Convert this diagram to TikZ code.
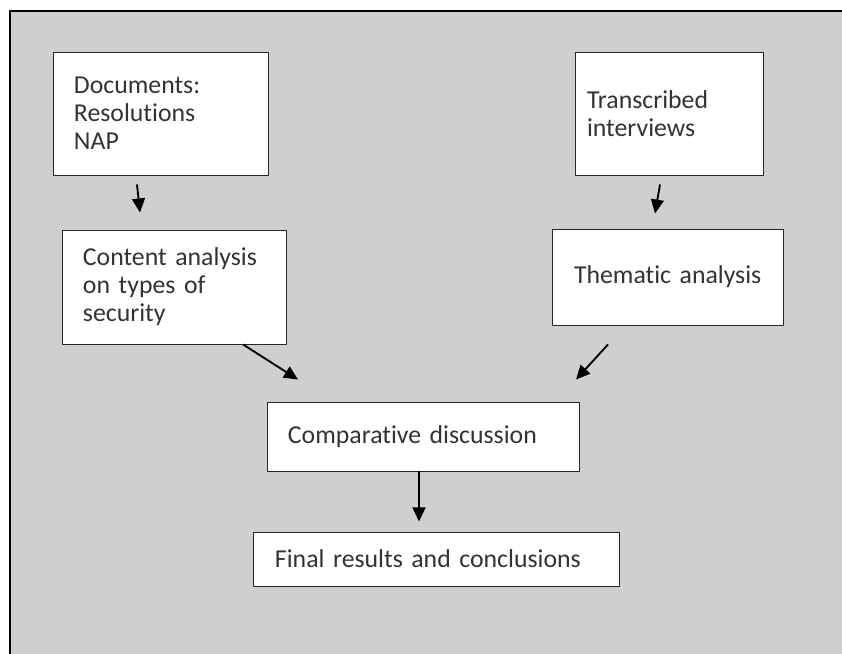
\documentclass[tikz,border=0pt]{standalone}
\usepackage{fontspec}
\setmainfont{Carlito}[Ligatures=NoCommon]
\usetikzlibrary{arrows.meta,calc}
\definecolor{panelgray}{HTML}{D0CECE}
\hyphenpenalty=10000
\begin{document}
\begin{tikzpicture}[x=0.03cm, y=-0.03cm, line join=round,
	box/.style={draw=black!85, fill=white, line width=0.8pt, align=left, inner ysep=0pt,
		inner xsep=0.63cm, text=black!80, font=\fontsize{22}{24}\selectfont},
	arr/.style={-{Triangle[length=12pt,width=11pt]}, line width=1.6pt}]
		\useasboundingbox (0,0) rectangle (842,654);
		\fill[white] (0,0) rectangle (842,654);
		\fill[panelgray] (10,11) rectangle (842,654);
		\draw[line width=1.6pt] (842,11) -- (10,11) -- (10,654);
		\node[box, text width=5.19cm, minimum height=3.69cm] (docs) at (160.5,113.5) {Documents:\\Resolutions\\NAP};
		\node[box, inner xsep=0.36cm, text width=4.92cm, minimum height=3.69cm] (trans) at (669,113.5) {Transcribed\\interviews};
		\node[box, text width=5.46cm, minimum height=3.42cm] (cont) at (174,287) {Content analysis\\on types of\\security};
		\node[box, inner xsep=0.66cm, text width=5.61cm, minimum height=2.88cm] (them) at (667.5,277) {\mbox{Thematic analysis}};
		\node[box, text width=8.1cm, minimum height=2.07cm] (comp) at (423,436.5) {Comparative discussion};
		\node[box, inner xsep=0.66cm, text width=9.66cm, minimum height=1.62cm] (final) at (436,559) {Final results and conclusions};
		\draw[arr] ($(docs.south)+(-23.5,9)$) -- ($(cont.north)+(-34,-17)$);
		\draw[arr] ($(trans.south)+(-9,9)$) -- ($(them.north)+(-12.5,-15)$);
		\draw[arr] ($(cont.south)+(69,0)$) -- ($(comp.north)+(-125,-22)$);
		\draw[arr] ($(them.south)+(-59.5,19)$) -- ($(comp.north)+(153,-22)$);
		\draw[arr] ($(comp.south)+(-4,0)$) -- ($(final.north)+(-17,-10)$);
\end{tikzpicture}
\end{document}
